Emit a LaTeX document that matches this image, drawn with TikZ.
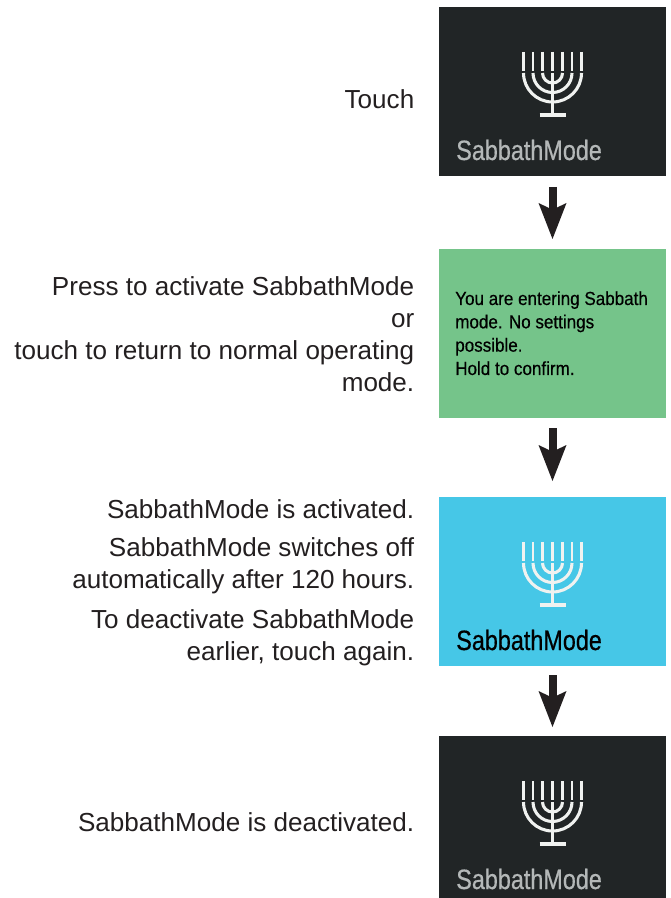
\documentclass[tikz,border=0pt]{standalone}
\usepackage{fontspec}
\setmainfont{Liberation Sans}
\newfontfamily\narrowfont[FakeStretch=0.835,FakeBold=0.5]{Liberation Sans}
\newfontfamily\msgfont[FakeStretch=0.90,FakeBold=0.4]{Liberation Sans}
\usetikzlibrary{arrows.meta}
\definecolor{darkbox}{HTML}{212526}
\definecolor{greenbox}{HTML}{75C48A}
\definecolor{bluebox}{HTML}{46C7E7}
\definecolor{arrowk}{HTML}{231F20}
\definecolor{greytxt}{HTML}{B4B8B8}
\definecolor{bodytxt}{HTML}{231F20}
\definecolor{iconwhite}{HTML}{F0F2F0}
\tikzset{
  panel/.style={anchor=north west,minimum width=170.25pt,inner sep=0pt,outer sep=0pt},
  label/.style={anchor=east,align=right,text=bodytxt,font=\fontsize{19.55pt}{24pt}\selectfont,inner sep=0pt},
  paneltitle/.style={anchor=base west,inner sep=0pt,font=\narrowfont\fontsize{21pt}{24pt}\selectfont},
  panelmsg/.style={anchor=north west,align=left,inner sep=0pt,text=black,font=\msgfont\fontsize{14.2pt}{17.5pt}\selectfont},
  flow/.style={draw=arrowk,line width=6pt,
    -{Stealth[length=27pt,width=21pt,inset=5pt,line width=0pt,fill=arrowk]}},
  pics/menorah/.style={code={
    \begin{scope}[draw=#1]
      \foreach \d in {-29,-19.5,-10,0,10,19.5,29}
        \draw[line width=1.6pt] (\d,-45) -- (\d,-64);
      \draw[line width=2.3pt] (-29,-66) arc[start angle=180,end angle=360,radius=29];
      \draw[line width=2.3pt] (-19.5,-66) arc[start angle=180,end angle=360,radius=19.5];
      \draw[line width=2.3pt] (-10,-66) arc[start angle=180,end angle=360,radius=10];
      \draw[line width=2.3pt] (0,-66) -- (0,-108);
      \draw[line width=2.5pt] (-13,-108) -- (13,-108);
    \end{scope}
  }}
}
\begin{document}
\begin{tikzpicture}[x=0.75pt,y=-0.75pt]
\useasboundingbox (0,0) rectangle (670,898);
\node[panel,fill=darkbox,minimum height=126.75pt] (p1) at (439,7) {};
\node[panel,fill=greenbox,minimum height=126.75pt] (p2) at (439,249) {};
\node[panel,fill=bluebox,minimum height=126.75pt] (p3) at (439,497) {};
\node[panel,fill=darkbox,minimum height=121.5pt] (p4) at (439,736) {};

\path (p1.north) pic[y=0.75pt] {menorah=iconwhite};
\path (p3.north) pic[y=0.75pt] {menorah=iconwhite};
\path (p4.north) pic[y=0.75pt] {menorah=iconwhite};

\node[paneltitle,text=greytxt] (t1) at (456,160) {SabbathMode};
\node[paneltitle,text=black] (t3) at (456,650) {SabbathMode};
\node[paneltitle,text=greytxt] (t4) at (456,889) {SabbathMode};
\node[panelmsg] (m2) at (455,291) {You are entering Sabbath\\mode. No settings\\possible.\\Hold to confirm.};

\node[label] (l1) at (414.5,99) {Touch};
\node[label] (l2) at (414.5,334) {Press to activate SabbathMode\\or\\touch to return to normal operating\\mode.};
\node[label] (l3a) at (414.5,509) {SabbathMode is activated.};
\node[label] (l3b) at (414.5,565.5) {SabbathMode switches off\\automatically after 120 hours.};
\node[label] (l3c) at (414.5,637.5) {To deactivate SabbathMode\\earlier, touch again.};
\node[label] (l4) at (414.5,822) {SabbathMode is deactivated.};

\draw[flow,shorten <=8.25pt,shorten >=7.5pt] (p1) -- (p2);
\draw[flow,shorten <=7.5pt,shorten >=12pt] (p2) -- (p3);
\draw[flow,shorten <=6.75pt,shorten >=6.75pt] (p3) -- (p4);
\end{tikzpicture}
\end{document}
